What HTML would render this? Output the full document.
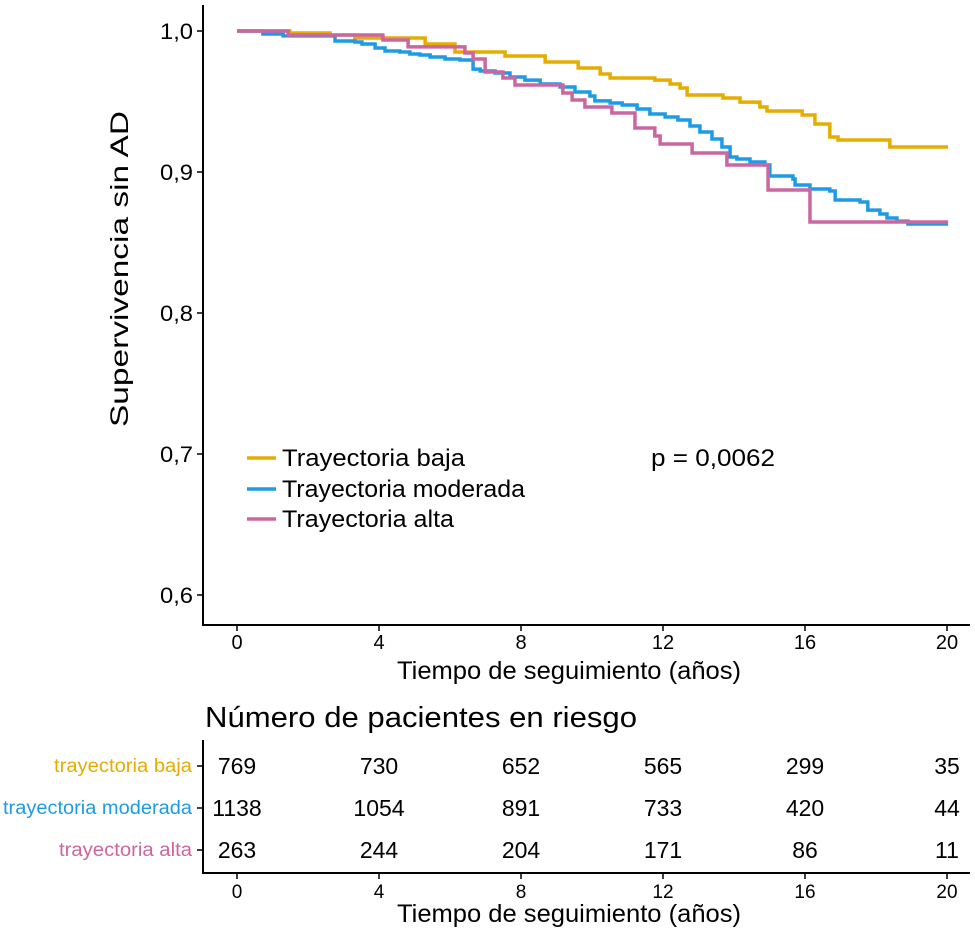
<!DOCTYPE html>
<html><head><meta charset="utf-8">
<style>
html,body{margin:0;padding:0;background:#fff;}
svg{display:block;font-family:"Liberation Sans",sans-serif;}
</style></head>
<body>
<svg id="chart" width="975" height="932" viewBox="0 0 975 932"></svg>
<script>
const groupNames = ["Trayectoria baja","Trayectoria moderada","Trayectoria alta"];
const groupColors = ["#E6AC00","#1E9BE6","#CC66A0"];
const bajaYears = [0,1.49,2.62,3.32,5.30,6.14,7.55,8.68,9.61,10.23,10.51,11.77,12.20,12.48,12.68,13.69,14.17,14.73,14.93,15.92,16.28,16.70,16.93,18.39,20.03];
const bajaSurv  = [1,.9986,.9972,.9950,.9908,.9851,.9823,.9780,.9738,.9695,.9667,.9652,.9624,.9596,.9546,.9525,.9496,.9461,.9433,.9404,.9340,.9248,.9227,.9177,.9177];
const modYears = [0,.73,1.30,2.76,3.32,3.52,3.89,4.17,4.59,4.87,5.15,5.44,5.86,6.28,6.65,6.85,7.27,7.69,8.11,8.54,9.10,9.52,9.94,10.08,10.51,10.85,11.27,11.63,12.06,12.42,12.76,13.04,13.38,13.66,13.89,14.08,14.45,14.87,15.01,15.66,15.72,16.14,16.70,16.85,17.55,17.77,18.11,18.31,18.59,18.90,20.03];
const modSurv  = [1,.9979,.9965,.9929,.9922,.9908,.9879,.9858,.9851,.9837,.9830,.9816,.9801,.9794,.9730,.9716,.9702,.9674,.9652,.9624,.9603,.9567,.9539,.9504,.9489,.9475,.9447,.9411,.9390,.9369,.9326,.9284,.9234,.9177,.9106,.9092,.9071,.9050,.8972,.8950,.8908,.8879,.8865,.8801,.8787,.8730,.8702,.8674,.8652,.8631,.8631];
const altaYears = [0,1.44,4.11,4.82,6.42,6.65,6.99,7.49,7.83,9.18,9.44,9.80,10.56,11.21,11.77,11.92,12.82,13.80,14.96,16.14,20.03];
const altaSurv  = [1,.9972,.9936,.9887,.9844,.9801,.9709,.9667,.9617,.9560,.9511,.9461,.9418,.9312,.9255,.9199,.9135,.9050,.8872,.8645,.8645];
const xTicks = [0,4,8,12,16,20];
const yTicks = [0.6,0.7,0.8,0.9,1.0];
const yTickLabels = ["0,6","0,7","0,8","0,9","1,0"];
const riskRowNames = ["trayectoria baja","trayectoria moderada","trayectoria alta"];
const riskBaja = [769,730,652,565,299,35];
const riskMod = [1138,1054,891,733,420,44];
const riskAlta = [263,244,204,171,86,11];

const NS="http://www.w3.org/2000/svg";
const svg=document.getElementById('chart');
function el(tag,attrs,parent){const e=document.createElementNS(NS,tag);for(const k in attrs)e.setAttribute(k,attrs[k]);(parent||svg).appendChild(e);return e;}
const xS=v=>237+v*35.5;
const yS=v=>31+(1-v)*1410;

let a=el('line',{x1:203,y1:5,x2:203,y2:625,stroke:'#000','stroke-width':2});


a=el('line',{x1:202,y1:625,x2:970,y2:625,stroke:'#000','stroke-width':2});


yTicks.forEach((t,i)=>{
  const y=yS(t);
  const l=el('line',{x1:197,y1:y,x2:203,y2:y,stroke:'#000','stroke-width':1.5});
  
  
  const tx=el('text',{x:193,y:y+8,'text-anchor':'end','font-size':22,fill:'#000',textLength:33,lengthAdjust:'spacingAndGlyphs'});
  tx.textContent=yTickLabels[i];
  
  
});
xTicks.forEach(t=>{
  const x=xS(t);
  const l=el('line',{x1:x,y1:625,x2:x,y2:631,stroke:'#000','stroke-width':1.5});
  
  
  const tx=el('text',{x:x,y:649,'text-anchor':'middle','font-size':20,fill:'#000'});
  tx.textContent=t;
  
  
});
let t=el('text',{x:569,y:679,'text-anchor':'middle','font-size':25,fill:'#000',textLength:344,lengthAdjust:'spacingAndGlyphs'});
t.textContent='Tiempo de seguimiento (años)';


t=el('text',{x:0,y:0,'text-anchor':'middle','font-size':25,fill:'#000',transform:'translate(128,269) rotate(-90)',textLength:316,lengthAdjust:'spacingAndGlyphs'});
t.textContent='Supervivencia sin AD';



const series=[[bajaYears,bajaSurv],[modYears,modSurv],[altaYears,altaSurv]];
const seriesNames=['curve-baja','curve-moderada','curve-alta'];
series.forEach((s,i)=>{
  let d='M'+xS(s[0][0])+','+yS(s[1][0]);
  for(let k=1;k<s[0].length;k++){d+=' H'+xS(s[0][k])+' V'+yS(s[1][k]);}
  const p=el('path',{d:d,fill:'none',stroke:groupColors[i],'stroke-width':3.5});
  
  
});

const legY=[458,489,519];
const legW=[183,243,172];
groupNames.forEach((n,i)=>{
  const g=el('g',{});
  
  
  el('line',{x1:247,y1:legY[i],x2:276,y2:legY[i],stroke:groupColors[i],'stroke-width':3.5},g);
  const tx=el('text',{x:282,y:legY[i]+8,'font-size':24,fill:'#000',textLength:legW[i],lengthAdjust:'spacingAndGlyphs'},g);
  tx.textContent=n;
});
t=el('text',{x:651,y:466,'font-size':24,fill:'#000',textLength:124,lengthAdjust:'spacingAndGlyphs'});
t.textContent='p = 0,0062';



t=el('text',{x:205,y:727,'font-size':29,fill:'#000',textLength:432,lengthAdjust:'spacingAndGlyphs'});
t.textContent='Número de pacientes en riesgo';


a=el('line',{x1:203,y1:740,x2:203,y2:874,stroke:'#000','stroke-width':2});


a=el('line',{x1:202,y1:873,x2:970,y2:873,stroke:'#000','stroke-width':2});


const rowY=[766,808,850];
const rowW=[138,189,133];
const riskRows=[riskBaja,riskMod,riskAlta];
riskRowNames.forEach((n,i)=>{
  const l=el('line',{x1:197,y1:rowY[i],x2:203,y2:rowY[i],stroke:'#000','stroke-width':1.5});
  
  
  const tx=el('text',{x:192,y:rowY[i]+6,'text-anchor':'end','font-size':19,fill:groupColors[i],textLength:rowW[i],lengthAdjust:'spacingAndGlyphs'});
  tx.textContent=n;
  
  
  riskRows[i].forEach((v,k)=>{
    const c=el('text',{x:xS(xTicks[k]),y:rowY[i]+8,'text-anchor':'middle','font-size':23,fill:'#000'});
    c.textContent=v;
    
    
  });
});
xTicks.forEach(v=>{
  const x=xS(v);
  const l=el('line',{x1:x,y1:873,x2:x,y2:879,stroke:'#000','stroke-width':1.5});
  
  
  const tx=el('text',{x:x,y:898,'text-anchor':'middle','font-size':19,fill:'#000'});
  tx.textContent=v;
  
  
});
t=el('text',{x:569,y:922,'text-anchor':'middle','font-size':25,fill:'#000',textLength:344,lengthAdjust:'spacingAndGlyphs'});
t.textContent='Tiempo de seguimiento (años)';


</script>
</body></html>
